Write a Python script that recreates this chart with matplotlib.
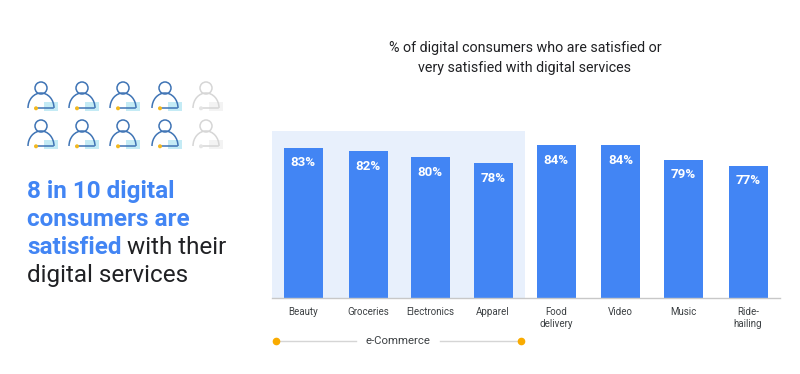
import matplotlib
matplotlib.use('Agg')
import matplotlib.pyplot as plt
from matplotlib.patches import Arc, Circle, Rectangle

plt.rcParams['font.family'] = ['Roboto', 'DejaVu Sans']

categories = ['Beauty', 'Groceries', 'Electronics', 'Apparel',
              'Food\ndelivery', 'Video', 'Music', 'Ride-\nhailing']
values = [83, 82, 80, 78, 84, 84, 79, 77]
value_labels = ['83%', '82%', '80%', '78%', '84%', '84%', '79%', '77%']
title = '% of digital consumers who are satisfied or\nvery satisfied with digital services'

# pixel layout of the reference
W, H = 800, 374
bar_x = [303, 368, 430, 493, 556, 620.5, 683, 748]
BLUE = '#4285f4'
PALE = '#e8f0fc'
DARK = '#202124'
GREY = '#3c4043'
ORANGE = '#f9ab00'

fig = plt.figure(figsize=(W/100, H/100), dpi=100)

# overlay in pixel coords, y going down
bg = fig.add_axes([0, 0, 1, 1])
bg.set_xlim(0, W)
bg.set_ylim(H, 0)
bg.axis('off')


def draw_person(ax, cx, cy, main, dot, box):
    '''One person icon, cx,cy is the middle of the head.'''
    ax.add_patch(Rectangle((cx+3, cy+14), 14, 9, color=box, lw=0))
    ax.add_patch(Circle((cx, cy), 6, fill=False, ec=main, lw=1.1))
    ax.add_patch(Arc((cx, cy+20), 26, 30, theta1=180, theta2=360,
                     ec=main, lw=1.1))
    ax.plot([cx-5, cx+12], [cy+20.3, cy+20.3], color=main, lw=1.1)
    ax.add_patch(Circle((cx-5, cy+20.3), 2, color=dot, lw=0, zorder=3))


for cy in [88, 126]:
    for i, cx in enumerate([41, 82, 123, 165, 206]):
        if i < 4:
            draw_person(bg, cx, cy, '#3f74b5', '#f2b81f', '#c4ebf5')
        else:
            draw_person(bg, cx, cy, '#d6d6d6', '#e4e4e4', '#f3f3f3')

# left hand headline
head_kw = dict(fontsize=17.5, va='baseline', ha='left')
bg.text(27, 198, '8 in 10 digital', color=BLUE, fontweight='bold', **head_kw)
bg.text(27, 226, 'consumers are', color=BLUE, fontweight='bold', **head_kw)
bg.text(27, 254, 'satisfied', color=BLUE, fontweight='bold', **head_kw)
bg.text(127, 254, 'with their', color=DARK, **head_kw)
bg.text(27, 282, 'digital services', color=DARK, **head_kw)

bg.text(525, 58, title, color=DARK, fontsize=10.3, ha='center', va='center',
        linespacing=1.6)

# e-commerce band behind the bars
bg.add_patch(Rectangle((272, 131), 253, 167, color=PALE, lw=0))

# e-Commerce bracket
bg.plot([276, 356], [341, 341], color='#d5d5d5', lw=1)
bg.plot([440, 521], [341, 341], color='#d5d5d5', lw=1)
bg.plot([276, 521], [341, 341], ls='none', marker='o', ms=4.5, color=ORANGE)
bg.text(398, 341, 'e-Commerce', color=GREY, fontsize=8.2, ha='center', va='center')

# bar axes, x in pixels, 3 px per percent with the base at 33
ax = fig.add_axes([272/W, (H-298)/H, 508/W, 168/H])
ax.patch.set_alpha(0)
ax.set_xlim(272, 780)
ax.set_ylim(33, 89)
ax.bar(bar_x, values, width=39, color=BLUE, bottom=0)
for x, v, lab in zip(bar_x, values, value_labels):
    ax.text(x, v-5, lab, color='white', fontsize=9.6, fontweight='bold',
            ha='center', va='center')
ax.set_xticks(bar_x)
ax.set_xticklabels(categories, fontsize=7, color=GREY, linespacing=1.3)
ax.tick_params(axis='x', length=0, pad=6.5)
ax.set_yticks([])
for s in ['top', 'left', 'right']:
    ax.spines[s].set_visible(False)
ax.spines['bottom'].set_color('#c8c8c8')
ax.spines['bottom'].set_linewidth(1)

fig.savefig('out.png', dpi=100)
